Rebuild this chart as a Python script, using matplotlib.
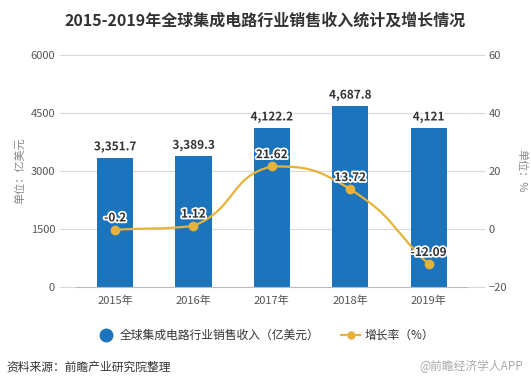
import numpy as np
import matplotlib.pyplot as plt
import matplotlib.patheffects as pe
from matplotlib.path import Path
from matplotlib.patches import PathPatch
from matplotlib.lines import Line2D

plt.rcParams['font.family'] = ['Noto Sans CJK SC', 'DejaVu Sans']

# data
years = ['2015年', '2016年', '2017年', '2018年', '2019年']
revenue = [3351.7, 3389.3, 4122.2, 4687.8, 4121]
revenue_labels = ['3,351.7', '3,389.3', '4,122.2', '4,687.8', '4,121']
growth = [-0.2, 1.12, 21.62, 13.72, -12.09]

bar_color = '#1c74bd'
line_color = '#e6b23a'
grid_color = '#d9d9d9'
tick_color = '#555555'

fig = plt.figure(figsize=(5.31, 3.88), dpi=100)
ax = fig.add_axes([0.143, 0.260, 0.738, 0.598])
ax2 = ax.twinx()

x = np.arange(len(years))
ax.bar(x, revenue, width=0.46, color=bar_color, zorder=2)
ax.set_xlim(-0.5, 4.5)
ax.set_ylim(0, 6000)
ax.set_yticks([0, 1500, 3000, 4500, 6000])
ax.set_xticks(x)
ax.set_xticklabels(years)
ax.grid(axis='y', color=grid_color, linewidth=0.8, zorder=0)
ax.set_axisbelow(True)
for s in ['top', 'right', 'left']:
    ax.spines[s].set_visible(False)
ax.spines['bottom'].set_color('#bbbbbb')
ax.tick_params(axis='y', length=12, color=grid_color, labelcolor=tick_color, labelsize=8, pad=3)
ax.tick_params(axis='x', length=0, labelcolor=tick_color, labelsize=8, pad=6)
ax.set_ylabel('单位：亿美元', color='#888888', fontsize=8, labelpad=4)

stroke = [pe.withStroke(linewidth=2.5, foreground='white')]
for xi, v, lab in zip(x, revenue, revenue_labels):
    ax.text(xi, v + 110, lab, ha='center', va='bottom', fontsize=8.5,
            fontweight='bold', color='#333333', path_effects=stroke, zorder=5)

ax2.set_ylim(-20, 60)
ax2.set_yticks([-20, 0, 20, 40, 60])
for s in ['top', 'right', 'left', 'bottom']:
    ax2.spines[s].set_visible(False)
ax2.tick_params(axis='y', length=12, color=grid_color, labelcolor=tick_color, labelsize=8, pad=3)
ax2.set_ylabel('单位：%', color='#888888', fontsize=8, rotation=-90, labelpad=14)

# smooth growth line: cubic bezier with control points clamped between neighbours
pts = ax2.transData.transform(np.column_stack([x, growth]))
n = len(pts)
cp_out, cp_in = [None] * n, [None] * n
smooth = 0.5
for i in range(n):
    p = pts[i]
    prev = pts[i - 1] if i > 0 else p
    nxt = pts[i + 1] if i < n - 1 else p
    v = nxt - prev
    l0 = np.hypot(*(p - prev))
    l1 = np.hypot(*(nxt - p))
    r = l1 / (l0 + l1) if (l0 + l1) > 0 else 0.5
    c1 = p + v * smooth * r
    c0 = p - v * smooth * (1 - r)
    c1 = np.minimum(c1, np.maximum(nxt, p))
    c1 = np.maximum(c1, np.minimum(nxt, p))
    c0 = np.minimum(c0, np.maximum(prev, p))
    c0 = np.maximum(c0, np.minimum(prev, p))
    cp_out[i], cp_in[i] = c1, c0
verts = [pts[0]]
codes = [Path.MOVETO]
for i in range(n - 1):
    verts += [cp_out[i], cp_in[i + 1], pts[i + 1]]
    codes += [Path.CURVE4] * 3
verts = ax2.transData.inverted().transform(np.array(verts))
ax2.add_patch(PathPatch(Path(verts, codes), facecolor='none', edgecolor=line_color,
                        linewidth=1.6, zorder=3))
ax2.plot(x, growth, 'o', color=line_color, markersize=6, zorder=4)
for xi, v in zip(x, growth):
    ax2.text(xi, v + 1.8, f'{v:g}', ha='center', va='bottom', fontsize=8.5,
             fontweight='bold', color='#333333', path_effects=stroke, zorder=6)

fig.text(0.5, 0.947, '2015-2019年全球集成电路行业销售收入统计及增长情况', ha='center', va='center',
         fontsize=11.5, fontweight='bold', color='#333333')

handles = [Line2D([], [], marker='o', linestyle='none', color=bar_color, markersize=9),
           Line2D([], [], marker='o', color=line_color, markersize=5, linewidth=1.6)]
fig.legend(handles, ['全球集成电路行业销售收入（亿美元）', '增长率（%）'], loc='center',
           bbox_to_anchor=(0.5, 0.135), ncol=2, frameon=False, fontsize=8.5,
           handlelength=1.6, handletextpad=0.4, columnspacing=1.8, labelcolor='#333333')

fig.text(0.012, 0.055, '资料来源：前瞻产业研究院整理', ha='left', va='center',
         fontsize=8.5, color='#333333')
fig.text(0.985, 0.055, '@前瞻经济学人APP', ha='right', va='center',
         fontsize=8.5, color='#aaaaaa')

fig.savefig('out.png', dpi=100)
